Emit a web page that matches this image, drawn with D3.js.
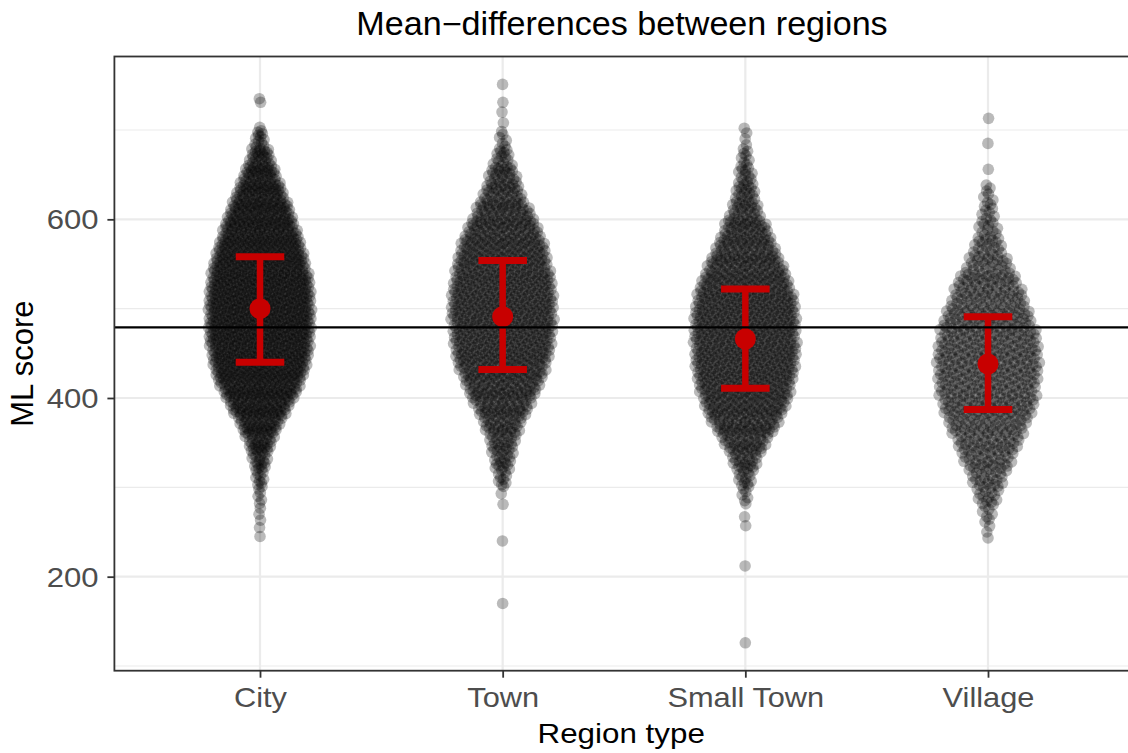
<!DOCTYPE html>
<html>
<head>
<meta charset="utf-8">
<script src="https://cdn.jsdelivr.net/npm/d3@7"></script>
<style>
  body { margin: 0; background: #fff; }
  text { font-family: "Liberation Sans", Arial, Helvetica, sans-serif; }
</style>
</head>
<body>
<svg id="chart" width="1128" height="753"></svg>
<script>
// ---- data ----
var regions = ["City", "Town", "Small Town", "Village"];

// number of pupils per 20-point score bin, first bin starts at 240
var binStart = 240, binStep = 20;
var cityBins      = [2, 3, 5, 10, 18, 30, 49, 73, 96, 113, 121, 127, 127, 127, 124, 115, 104, 90, 76, 59, 42, 26, 12];
var townBins      = [0, 0, 0, 10, 18, 24, 35, 51, 67, 80, 90, 93, 96, 96, 93, 86, 80, 67, 51, 35, 26, 14, 6];
var smallTownBins = [0, 0, 6, 13, 24, 40, 61, 77, 86, 93, 96, 96, 96, 93, 83, 70, 54, 42, 26, 19, 13, 8, 3];
var villageBins   = [3, 7, 15, 23, 34, 44, 54, 65, 68, 71, 71, 68, 61, 51, 44, 29, 20, 13, 9, 6];

// isolated points outside the binned body
var cityOutliers      = [703, 731, 735];
var townOutliers      = [170, 240, 281, 293, 708, 720, 731, 751];
var smallTownOutliers = [126, 212, 257, 267, 702];
var villageOutliers   = [656, 685, 713];

// mean and +-1 SD per region, and the grand mean
var groupMeans = [500, 491, 466, 438];
var groupLow   = [440, 432, 411, 387];
var groupHigh  = [558, 554, 522, 491];
var grandMean  = 479;

var yTicks = [200, 400, 600];
var yMinor = [100, 300, 500, 700];

// ---- layout ----
var svg = d3.select("#chart");
var panel = {left: 114.4, right: 1133.6, top: 56.5, bottom: 670.7};
var halfWidth = 52;      // widest swarm, px each side
var pointR = 5.8;

function expand(bins, extra) {
    var vals = [];
    bins.forEach(function(n, i) {
        var lo = binStart + i * binStep;
        for (var k = 0; k < n; k++) vals.push(lo + (k + 0.5) * binStep / n);
    });
    return vals.concat(extra).sort(d3.ascending);
}

var groups = [
    expand(cityBins, cityOutliers),
    expand(townBins, townOutliers),
    expand(smallTownBins, smallTownOutliers),
    expand(villageBins, villageOutliers)
];

var allVals = d3.merge(groups);
var ext = d3.extent(allVals);
var pad = (ext[1] - ext[0]) * 0.05;

var x = d3.scalePoint().domain(regions).range([panel.left, panel.right]).padding(0.6);
var y = d3.scaleLinear().domain([ext[0] - pad, ext[1] + pad]).range([panel.bottom, panel.top]);

// van der Corput sequence, base 2 (quasirandom offsets)
function vdc(i) {
    var r = 0, f = 0.5;
    while (i > 0) { r += f * (i & 1); i >>= 1; f /= 2; }
    return r;
}

var points = [];
groups.forEach(function(vals, gi) {
    var n = vals.length;
    var sd = d3.deviation(vals);
    var iqr = d3.quantile(vals, 0.75) - d3.quantile(vals, 0.25);
    var bw = 0.5 * 0.9 * Math.min(sd, iqr / 1.34) * Math.pow(n, -0.2);
    var dens = vals.map(function(v) {
        var s = 0;
        for (var j = 0; j < n; j++) {
            var u = (v - vals[j]) / bw;
            s += Math.exp(-0.5 * u * u);
        }
        return s;
    });
    var maxD = d3.max(dens);
    vals.forEach(function(v, i) {
        var off = (vdc(i + 1) - 0.5) * 2 * halfWidth * dens[i] / maxD;
        points.push({cx: x(regions[gi]) + off, cy: y(v)});
    });
});

// ---- panel grid ----
svg.append("clipPath").attr("id", "panelClip")
    .append("rect")
    .attr("x", panel.left).attr("y", panel.top)
    .attr("width", panel.right - panel.left).attr("height", panel.bottom - panel.top);

var grid = svg.append("g").attr("clip-path", "url(#panelClip)");
grid.selectAll(".minor").data(yMinor).enter().append("line")
    .attr("x1", panel.left).attr("x2", panel.right)
    .attr("y1", function(d) { return y(d); }).attr("y2", function(d) { return y(d); })
    .attr("stroke", "#ebebeb").attr("stroke-width", 1.1);
grid.selectAll(".major").data(yTicks).enter().append("line")
    .attr("x1", panel.left).attr("x2", panel.right)
    .attr("y1", function(d) { return y(d); }).attr("y2", function(d) { return y(d); })
    .attr("stroke", "#ebebeb").attr("stroke-width", 2.2);
grid.selectAll(".vmajor").data(regions).enter().append("line")
    .attr("y1", panel.top).attr("y2", panel.bottom)
    .attr("x1", function(d) { return x(d); }).attr("x2", function(d) { return x(d); })
    .attr("stroke", "#ebebeb").attr("stroke-width", 2.2);

// ---- swarm ----
svg.append("g").attr("clip-path", "url(#panelClip)")
    .selectAll("circle").data(points).enter().append("circle")
    .attr("cx", function(d) { return d.cx; })
    .attr("cy", function(d) { return d.cy; })
    .attr("r", pointR)
    .attr("fill", "#000")
    .attr("fill-opacity", 0.27);

// ---- error bars and means ----
var red = "#c80000";
var capW = x.step() * 0.1;
var eb = svg.append("g");
regions.forEach(function(r, i) {
    var cx = x(r);
    eb.append("line").attr("x1", cx).attr("x2", cx)
        .attr("y1", y(groupLow[i])).attr("y2", y(groupHigh[i]))
        .attr("stroke", red).attr("stroke-width", 6.5);
    [groupLow[i], groupHigh[i]].forEach(function(v) {
        eb.append("line").attr("x1", cx - capW).attr("x2", cx + capW)
            .attr("y1", y(v)).attr("y2", y(v))
            .attr("stroke", red).attr("stroke-width", 7);
    });
    eb.append("circle").attr("cx", cx).attr("cy", y(groupMeans[i]))
        .attr("r", 10.5).attr("fill", red);
});

// grand mean
svg.append("line")
    .attr("x1", panel.left).attr("x2", panel.right)
    .attr("y1", y(grandMean)).attr("y2", y(grandMean))
    .attr("stroke", "#000").attr("stroke-width", 2.4);

// ---- border ----
svg.append("rect")
    .attr("x", panel.left).attr("y", panel.top)
    .attr("width", panel.right - panel.left).attr("height", panel.bottom - panel.top)
    .attr("fill", "none").attr("stroke", "#333").attr("stroke-width", 1.8);

// ---- axes ----
var yAxis = svg.append("g")
    .attr("transform", "translate(" + panel.left + ",0)")
    .call(d3.axisLeft(y).tickValues(yTicks).tickSize(7).tickSizeOuter(0));
yAxis.select(".domain").remove();
yAxis.selectAll(".tick line").attr("stroke", "#333").attr("stroke-width", 1.8);
yAxis.selectAll(".tick text")
    .attr("x", null).attr("dy", null)
    .attr("transform", "translate(-16,9.5) scale(1.15,1)")
    .attr("font-size", 27).attr("fill", "#4d4d4d").attr("text-anchor", "end");

var xAxis = svg.append("g")
    .attr("transform", "translate(0," + panel.bottom + ")")
    .call(d3.axisBottom(x).tickSize(7).tickSizeOuter(0));
xAxis.select(".domain").remove();
xAxis.selectAll(".tick line").attr("stroke", "#333").attr("stroke-width", 1.8);
xAxis.selectAll(".tick text")
    .attr("y", null).attr("dy", null)
    .attr("transform", "translate(0,36.3) scale(1.14,1)")
    .attr("font-size", 27).attr("fill", "#4d4d4d").attr("text-anchor", "middle");

// ---- titles ----
svg.append("text")
    .attr("transform", "translate(622,35) scale(1.05,1)")
    .attr("text-anchor", "middle").attr("font-size", 32.5).attr("fill", "#000")
    .text("Mean\u2212differences between regions");

svg.append("text")
    .attr("transform", "translate(" + ((panel.left + 1128) / 2) + ",743) scale(1.12,1)")
    .attr("text-anchor", "middle").attr("font-size", 28).attr("fill", "#000")
    .text("Region type");

svg.append("text")
    .attr("transform", "translate(33," + ((panel.top + panel.bottom) / 2) + ") rotate(-90)")
    .attr("text-anchor", "middle").attr("font-size", 31).attr("fill", "#000")
    .text("ML score");
</script>
</body>
</html>
